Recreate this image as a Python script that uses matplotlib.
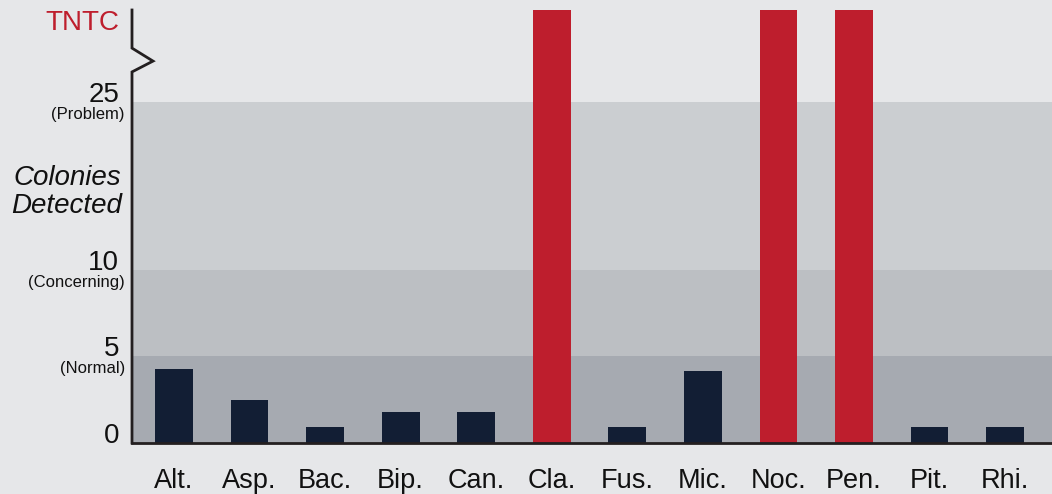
import numpy as np
import matplotlib
matplotlib.use('Agg')
import matplotlib.pyplot as plt
import matplotlib.transforms as mtransforms
from matplotlib.lines import Line2D

plt.rcParams['font.family'] = ['Liberation Sans', 'DejaVu Sans']

# Data
genera = ['Alt.', 'Asp.', 'Bac.', 'Bip.', 'Can.', 'Cla.', 'Fus.', 'Mic.', 'Noc.', 'Pen.', 'Pit.', 'Rhi.']
colonies = [4.25, 2.5, 0.95, 1.8, 1.8, 'TNTC', 0.95, 4.15, 'TNTC', 'TNTC', 0.95, 0.95]

tick_values = [0, 5, 10, 25]
tick_notes = ['', '(Normal)', '(Concerning)', '(Problem)']
TNTC_LEVEL = 40  # value used for "too numerous to count"

band_edges = [0, 5, 10, 25]
band_colors = ['#a6aab1', '#bcbfc3', '#cbced1']

bg = '#e6e7e9'
navy = '#121e34'
red = '#be1e2d'
axis_col = '#231f20'

# piecewise-linear (broken) y scale
scale_vals = [0, 5, 10, 25, TNTC_LEVEL]
scale_pos = [0, 1, 2, 3.94, 5]


def fwd(v):
    return np.interp(v, scale_vals, scale_pos)


def inv(p):
    return np.interp(p, scale_pos, scale_vals)


fig = plt.figure(figsize=(10.52, 4.94), dpi=100, facecolor=bg)
ax = fig.add_axes([132 / 1052, 51 / 494, 920 / 1052, 433 / 494])
ax.set_facecolor(bg)
ax.set_yscale('function', functions=(fwd, inv))
ax.set_ylim(0, TNTC_LEVEL)
ax.set_xlim(-0.556, 11.62)

# background bands
for lo, hi, c in zip(band_edges[:-1], band_edges[1:], band_colors):
    ax.axhspan(lo, hi, color=c, lw=0, zorder=0)

x = np.arange(len(genera))
heights = [TNTC_LEVEL if v == 'TNTC' else v for v in colonies]
colors = [red if v == 'TNTC' else navy for v in colonies]
ax.bar(x, heights, width=0.5, color=colors, zorder=2)

# spines
for s in ['top', 'right', 'left']:
    ax.spines[s].set_visible(False)
ax.spines['bottom'].set_color(axis_col)
ax.spines['bottom'].set_linewidth(2)
ax.spines['bottom'].set_zorder(3)

# left axis with a break (zigzag)
dx = 21 / 920
brk = Line2D([0, 0, dx, 0, 0], [0, 0.857, 0.882, 0.912, 1.0],
             transform=ax.transAxes, color=axis_col, lw=2,
             clip_on=False, zorder=4, solid_joinstyle='miter')
ax.add_line(brk)

# y tick labels
ax.set_yticks([])
trans = mtransforms.blended_transform_factory(ax.transAxes, ax.transData)
num_tr = mtransforms.offset_copy(trans, fig=fig, x=-13, y=0, units='dots')
note_tr = mtransforms.offset_copy(trans, fig=fig, x=-7, y=-5, units='dots')
for v, note in zip(tick_values, tick_notes):
    ax.text(0, v, str(v), transform=num_tr, ha='right', va='baseline',
            fontsize=20, color='#111111')
    if note:
        ax.text(0, v, note, transform=note_tr, ha='right', va='top',
                fontsize=12, color='#111111')
ax.text(0, TNTC_LEVEL, 'TNTC', transform=mtransforms.offset_copy(trans, fig=fig, x=-13, y=-20, units='dots'),
        ha='right', va='baseline', fontsize=20, color=red)

# x labels
ax.set_xticks(x)
ax.set_xticklabels(genera, fontsize=19.5, color='#111111')
ax.tick_params(axis='x', length=0, pad=18)

fig.text(67 / 1052, 1 - 192 / 494, 'Colonies\nDetected', ha='center', va='center',
         fontsize=20, style='italic', linespacing=1.12, color='#111111')

fig.savefig('out.png', dpi=100, facecolor=bg)
